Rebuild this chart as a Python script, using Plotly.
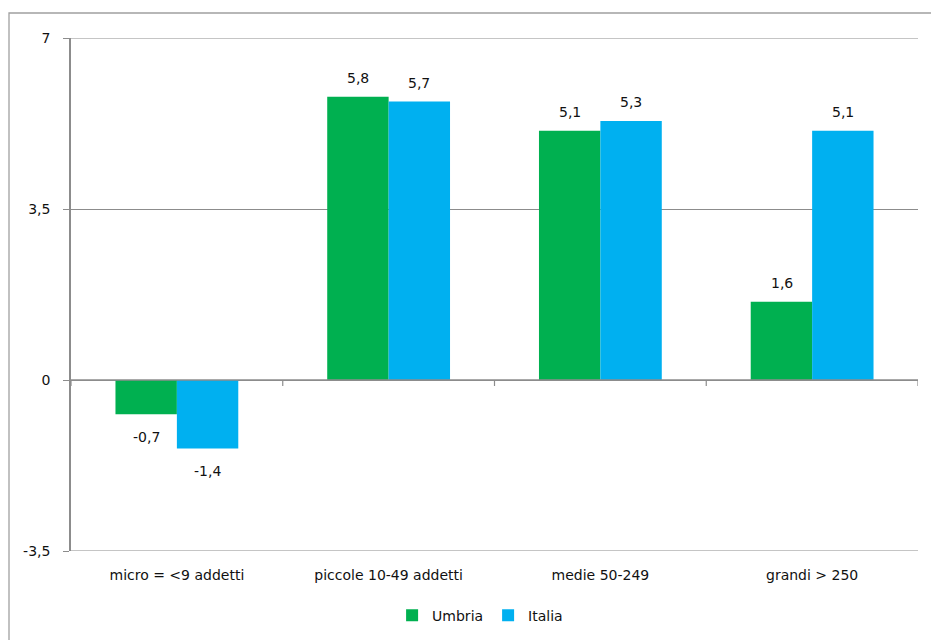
import plotly.graph_objects as go

categories = ["micro = <9 addetti", "piccole 10-49 addetti", "medie 50-249", "grandi > 250"]
umbria = [-0.7, 5.8, 5.1, 1.6]
italia = [-1.4, 5.7, 5.3, 5.1]
y_ticks = [-3.5, 0, 3.5, 7]
y_ticktext = ["-3,5", "0", "3,5", "7"]

FONT = "DejaVu Sans"
FS = 14
GRAY = "#8c8c8c"
TXT = "#111111"
BAR_HALF = 30.5  # pixel offset of each bar center from category center

fig = go.Figure()
fig.add_trace(go.Bar(name="Umbria", x=categories, y=umbria, marker_color="#00B050",
                     marker_line_width=0))
fig.add_trace(go.Bar(name="Italia", x=categories, y=italia, marker_color="#00B0F0",
                     marker_line_width=0))

annotations = []
for series, shift in [(umbria, -BAR_HALF), (italia, BAR_HALF)]:
    for c, v in zip(categories, series):
        pos = v >= 0
        annotations.append(dict(
            x=c, y=v, xref="x", yref="y", xshift=shift,
            yshift=9 if pos else -13, yanchor="bottom" if pos else "top",
            text=f"{v:.1f}".replace(".", ","), showarrow=False,
            font=dict(family=FONT, size=FS, color=TXT)))

shapes = []
# top & bottom gridlines
for yv in [7, -3.5]:
    shapes.append(dict(type="line", xref="paper", yref="y", x0=0, x1=1, y0=yv, y1=yv,
                       line=dict(color=GRAY, width=1.2), layer="below"))
# zero line
shapes.append(dict(type="line", xref="paper", yref="y", x0=0, x1=1, y0=0, y1=0,
                   line=dict(color=GRAY, width=1.5), layer="above"))
# category tick marks on zero line
for b in [-0.5, 0.5, 1.5, 2.5, 3.5]:
    shapes.append(dict(type="line", xref="x", yref="y", x0=b, x1=b, ysizemode="pixel",
                       yanchor=0, y0=0, y1=-6, line=dict(color=GRAY, width=1.2), layer="above"))
# outer frame
shapes.append(dict(type="rect", xref="paper", yref="paper", x0=-0.0732, x1=1.03,
                   y0=-0.3, y1=1.0487, line=dict(color="#a0a0a0", width=1.3),
                   fillcolor="rgba(0,0,0,0)"))

fig.update_layout(
    width=931, height=640,
    margin=dict(l=71, r=13, t=38, b=89, autoexpand=False),
    paper_bgcolor="white", plot_bgcolor="white",
    barmode="group", bargap=0.42, bargroupgap=0,
    font=dict(family=FONT, size=FS, color=TXT),
    showlegend=True,
    legend=dict(orientation="h", x=0.483, xanchor="center", y=-0.095, yanchor="top",
                font=dict(family=FONT, size=FS, color=TXT), itemwidth=30,
                traceorder="normal", tracegroupgap=0),
    shapes=shapes,
    annotations=annotations,
    xaxis=dict(showgrid=False, showline=False, ticks="", tickfont=dict(family=FONT, size=FS, color=TXT),
               range=[-0.5, 3.5], ticklabelstandoff=14),
    yaxis=dict(range=[-3.5, 7], tickvals=y_ticks, ticktext=y_ticktext,
               showgrid=True, gridcolor=GRAY, gridwidth=1.2, zeroline=False,
               showline=True, linecolor=GRAY, linewidth=1.5, ticks="outside",
               ticklen=6, tickcolor=GRAY, tickfont=dict(family=FONT, size=FS, color=TXT),
               ticklabelstandoff=10),
)

fig.write_html("out.html")
